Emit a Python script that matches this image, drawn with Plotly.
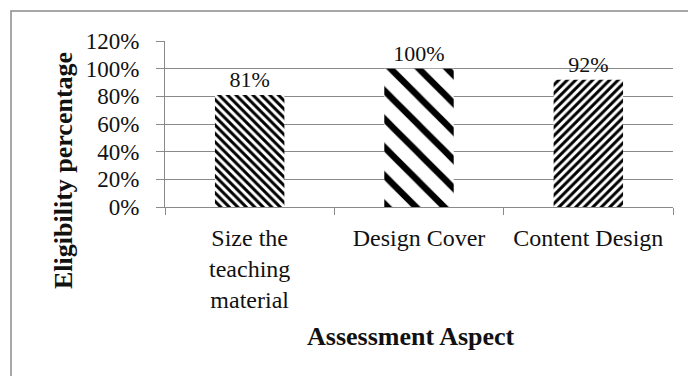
import plotly.graph_objects as go

categories = ["Size the<br>teaching<br>material", "Design Cover", "Content Design"]
values = [0.81, 1.00, 0.92]
pattern_shapes = ["\\", "\\", "/"]
pattern_sizes = [6, 20, 6]
pattern_solidity = [0.5, 0.32, 0.5]
y_ticks = [0, 0.2, 0.4, 0.6, 0.8, 1.0, 1.2]

W, H = 688, 376
L, R, T, B = 165, 15, 41, 169
pw, ph = W - L - R, H - T - B

def px_x(p):
    return (p - L) / pw

def px_y(p):
    return (H - B - p) / ph

FONT = "Liberation Serif"
GRID = "#8a8a8a"

fig = go.Figure(go.Bar(
    x=categories, y=values,
    marker=dict(color="white",
                pattern=dict(shape=pattern_shapes, size=pattern_sizes,
                             solidity=pattern_solidity, fgcolor="black",
                             bgcolor="white", fillmode="replace"),
                line=dict(width=0)),
    texttemplate="%{y:.0%}", textposition="outside", cliponaxis=False,
    textfont=dict(family=FONT, size=22, color="#111111"),
))

fig.update_layout(
    width=W, height=H, margin=dict(l=L, r=R, t=T, b=B, pad=0),
    paper_bgcolor="white", plot_bgcolor="white", showlegend=False,
    bargap=0.59,
    font=dict(family=FONT, size=22, color="#111111"),
    xaxis=dict(showline=True, linecolor=GRID, linewidth=1, ticks="outside",
               tickson="boundaries", ticklen=7, tickcolor=GRID,
               ticklabelstandoff=9,
               tickfont=dict(size=24), showgrid=False),
    yaxis=dict(range=[0, 1.2], tickvals=y_ticks, tickformat=".0%",
               showline=True, linecolor=GRID, linewidth=1, ticks="outside",
               ticklen=8, tickcolor=GRID, gridcolor=GRID, gridwidth=1,
               zeroline=False, ticklabelstandoff=12, tickfont=dict(size=23)),
    shapes=[dict(type="rect", xref="paper", yref="paper",
                 x0=px_x(11), x1=px_x(700), y0=px_y(400), y1=px_y(11),
                 line=dict(color=GRID, width=1.5), layer="below")],
    annotations=[
        dict(text="<b>Eligibility percentage</b>", xref="paper", yref="paper",
             x=px_x(63), y=px_y(171), xanchor="center", yanchor="middle",
             textangle=-90, showarrow=False, font=dict(size=26)),
        dict(text="<b>Assessment Aspect</b>", xref="paper", yref="paper",
             x=px_x(411), y=px_y(336), xanchor="center", yanchor="middle",
             showarrow=False, font=dict(size=26)),
    ],
)

fig.write_html("out.html")
